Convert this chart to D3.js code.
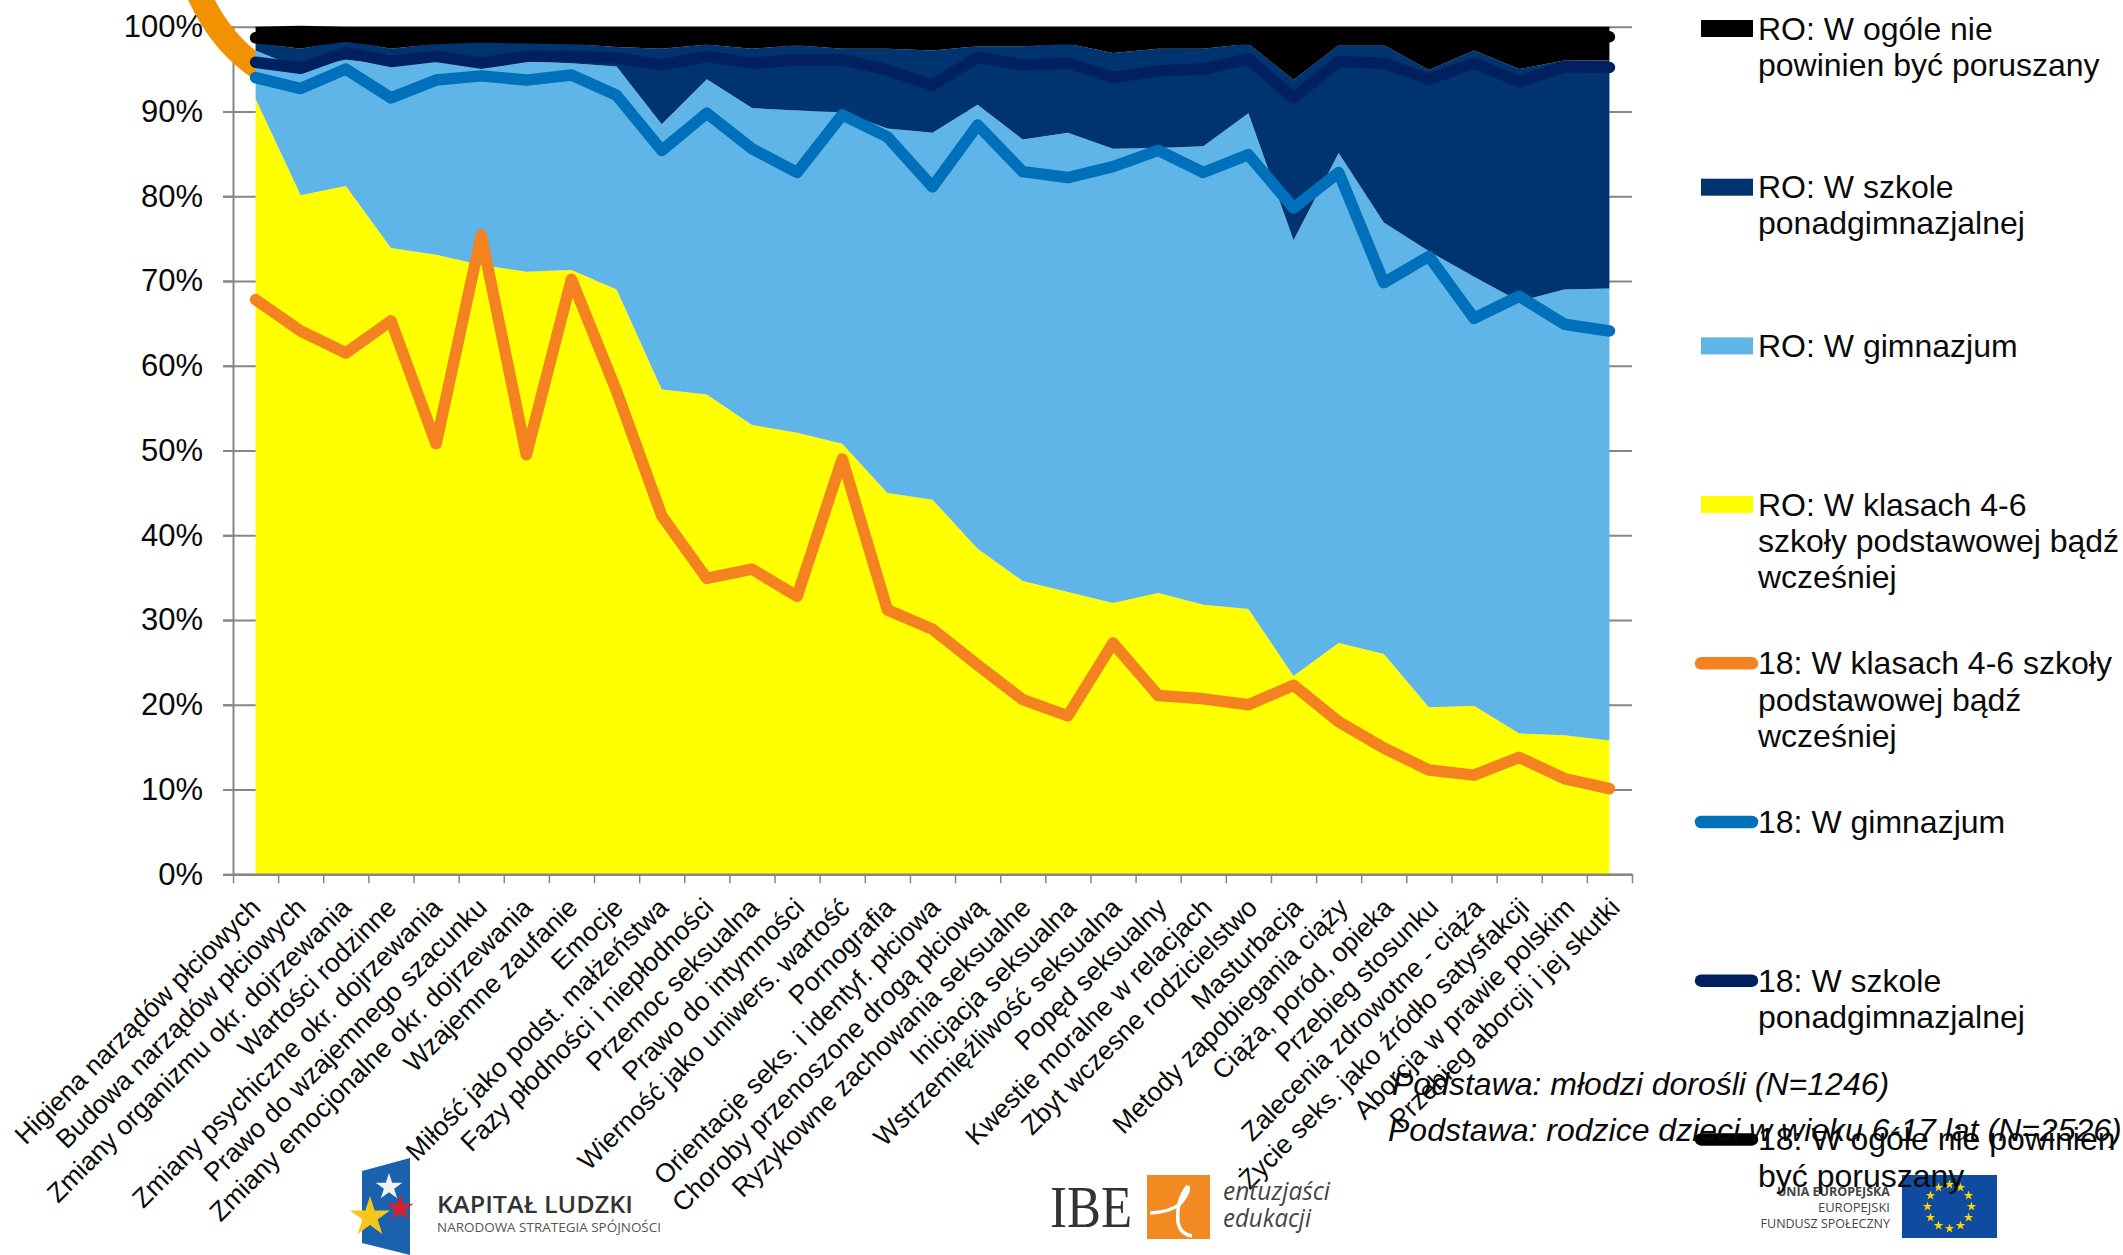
<!DOCTYPE html>
<html><head><meta charset="utf-8">
<script src="https://cdn.jsdelivr.net/npm/d3@7"></script>
<style>
html,body{margin:0;padding:0;background:#fff;overflow:hidden}
svg{display:block}
text{font-family:"Liberation Sans",Arial,sans-serif;fill:#0a0a0a}
</style></head><body>
<svg id="c" width="2123" height="1255"></svg>
<script>
const categories = ["Higiena narządów płciowych","Budowa narządów płciowych","Zmiany organizmu okr. dojrzewania","Wartości rodzinne","Zmiany psychiczne okr. dojrzewania","Prawo do wzajemnego szacunku","Zmiany emocjonalne okr. dojrzewania","Wzajemne zaufanie","Emocje","Miłość jako podst. małżeństwa","Fazy płodności i niepłodności","Przemoc seksualna","Prawo do intymności","Wierność jako uniwers. wartość","Pornografia","Orientacje seks. i identyf. płciowa","Choroby przenoszone drogą płciową","Ryzykowne zachowania seksualne","Inicjacja seksualna","Wstrzemięźliwość seksualna","Popęd seksualny","Kwestie moralne w relacjach","Zbyt wczesne rodzicielstwo","Masturbacja","Metody zapobiegania ciąży","Ciąża, poród, opieka","Przebieg stosunku","Zalecenia zdrowotne - ciąża","Życie seks. jako źródło satysfakcji","Aborcja w prawie polskim","Przebieg aborcji i jej skutki"];
// RO (rodzice) – stacked shares, %
const roKlasy = [91.5,80.1,81.2,73.9,73.1,71.9,71.1,71.3,69.0,57.2,56.6,53.0,52.1,50.8,45.0,44.2,38.4,34.6,33.3,32.0,33.2,31.8,31.3,23.4,27.3,26.0,19.7,19.9,16.6,16.4,15.8];
const roGimnazjum = [5.7,14.9,14.9,21.6,22.9,23.6,24.8,24.4,26.3,31.3,37.2,37.4,38.0,39.1,43.0,43.3,52.4,52.1,54.2,53.6,52.5,54.1,58.5,51.4,57.8,50.9,53.8,50.6,51.0,52.6,53.3];
const roPonad = [0.9,2.4,2.3,1.9,2.0,2.7,2.2,2.3,2.3,8.9,4.1,7.0,7.7,7.5,9.4,9.7,6.9,11.0,10.5,11.3,11.7,11.5,8.2,18.9,12.7,20.9,21.4,26.7,27.4,27.0,26.9];
const roWcale = [1.9,2.7,1.6,2.6,2.0,1.8,1.9,2.0,2.4,2.6,2.1,2.6,2.2,2.6,2.6,2.8,2.3,2.3,2.0,3.1,2.6,2.6,2.0,6.3,2.2,2.2,5.1,2.8,5.0,4.0,4.0];
// 18 (młodzi dorośli) – cumulative line positions, %
const m18Klasy = [67.8,64.1,61.5,65.3,50.8,75.4,49.5,70.2,57.0,42.3,34.9,36.0,32.8,49.0,31.2,28.9,24.7,20.6,18.7,27.3,21.1,20.7,20.0,22.3,18.0,14.9,12.3,11.7,13.8,11.3,10.1];
const m18Gimnazjum = [94.0,92.7,95.0,91.6,93.7,94.2,93.7,94.3,91.9,85.4,89.8,85.6,82.8,89.6,87.0,81.1,88.4,82.9,82.2,83.5,85.4,82.8,84.9,78.6,82.8,69.8,72.9,65.6,68.2,64.9,64.1];
const m18Ponad = [95.8,95.1,97.0,95.9,96.5,95.7,96.5,96.5,96.3,95.5,96.5,95.7,96.1,96.1,94.9,93.1,96.4,95.5,95.7,94.0,94.8,95.0,96.2,91.6,95.9,95.7,93.8,95.7,93.5,95.3,95.2];
const m18Wcale = [98.7,98.2,98.9,98.2,98.6,98.8,98.7,98.6,98.4,98.2,98.6,98.2,98.5,98.2,98.2,98.1,98.4,98.4,98.6,98.1,98.3,98.3,98.6,97.5,98.5,98.5,97.8,98.3,97.9,98.7,98.8];
const yTicks = [0,10,20,30,40,50,60,70,80,90,100];
const legendItems = [
 {kind:"area",color:"#000000",lines:["RO: W ogóle nie","powinien być poruszany"]},
 {kind:"area",color:"#003470",lines:["RO: W szkole","ponadgimnazjalnej"]},
 {kind:"area",color:"#60B5E8",lines:["RO: W gimnazjum"]},
 {kind:"area",color:"#FFFF00",lines:["RO: W klasach 4-6","szkoły podstawowej bądź","wcześniej"]},
 {kind:"line",color:"#F58220",lines:["18: W klasach 4-6 szkoły","podstawowej bądź","wcześniej"]},
 {kind:"line",color:"#0070BA",lines:["18: W gimnazjum"]},
 {kind:"line",color:"#00205F",lines:["18: W szkole","ponadgimnazjalnej"]},
 {kind:"line",color:"#000000",lines:["18: W ogóle nie powinien","być poruszany"]}
];

const svg = d3.select("#c");
const L=233, R=1632, T=26.7, B=874.3, GREY="#868686", FS=32;
const xBand = d3.scaleBand().domain(categories).range([L,R]);
const xMid = c => xBand(c)+xBand.bandwidth()/2;
const xTick = d3.scaleLinear().domain([0,categories.length]).range([L,R]);
const y = d3.scaleLinear().domain([0,100]).range([B,T]);

// gridlines
const grid = svg.append("g").attr("transform",`translate(${L-10},0)`)
  .call(d3.axisRight(y).tickValues(yTicks).tickSize(R-L+10).tickFormat(""));
grid.select(".domain").remove();
grid.selectAll("line").attr("stroke",GREY).attr("stroke-width",2);

// y axis
const yAxis = svg.append("g").attr("transform",`translate(${L},0)`)
  .call(d3.axisLeft(y).tickValues(yTicks).tickSize(10).tickSizeOuter(0).tickPadding(20).tickFormat(d=>d+"%"));
yAxis.select(".domain").attr("stroke",GREY).attr("stroke-width",2);
yAxis.selectAll("line").attr("stroke",GREY).attr("stroke-width",2);
yAxis.selectAll("text").attr("font-size",31).attr("fill","#0a0a0a");

// decorative orange arc, tucked behind the areas
svg.append("path").attr("d","M199,-5 Q222,45 262,70").attr("fill","none").attr("stroke","#F39200").attr("stroke-width",24);

// stacked areas
const rows = categories.map((c,i)=>({c,a:roKlasy[i],b:roGimnazjum[i],d:roPonad[i],e:roWcale[i]}));
const stack = d3.stack().keys(["a","b","d","e"])(rows);
const areaColors = ["#FFFF00","#60B5E8","#003470","#000000"];
const area = d3.area().x(d=>xMid(d.data.c)).y0(d=>y(d[0])).y1(d=>y(d[1]));
svg.append("g").selectAll("path").data(stack).join("path").attr("d",area).attr("fill",(d,i)=>areaColors[i]);

// x axis
const xTicks = svg.append("g").attr("transform",`translate(0,${B})`)
  .call(d3.axisBottom(xTick).tickValues(d3.range(categories.length+1)).tickSize(9).tickSizeOuter(0).tickFormat(""));
xTicks.select(".domain").attr("stroke",GREY).attr("stroke-width",2.5);
xTicks.selectAll("line").attr("stroke",GREY).attr("stroke-width",1.5);

const xLabels = svg.append("g").attr("transform",`translate(0,${B})`)
  .call(d3.axisBottom(xBand).tickSize(0));
xLabels.select(".domain").remove();
const labelShift = d3.scaleLinear().domain([0,categories.length-1]).range([6.5,12]);
xLabels.selectAll("text")
  .attr("font-size",26.5).attr("fill","#0a0a0a")
  .attr("text-anchor","end").attr("dy",0).attr("y",0)
  .attr("transform",(d,i)=>`translate(${labelShift(i)},35) rotate(-45)`);

// lines
const lineGen = d3.line().x((d,i)=>xMid(categories[i])).y(d=>y(d));
const seriesLines = [[m18Wcale,"#000000"],[m18Ponad,"#00205F"],[m18Gimnazjum,"#0070BA"],[m18Klasy,"#F58220"]];
svg.append("g").selectAll("path").data(seriesLines).join("path")
  .attr("d",d=>lineGen(d[0])).attr("fill","none").attr("stroke",d=>d[1])
  .attr("stroke-width",11.5).attr("stroke-linecap","round").attr("stroke-linejoin","round");

// logos
const starPath = d3.symbol().type(d3.symbolStar);
const kl = svg.append("g");
kl.append("path").attr("d","M362,1171 L410,1158 L410,1255 L362,1243 Z").attr("fill","#1B62AE");
[[389,1187,220,"#F2F2F2"],[400,1208,220,"#D7202B"],[370,1217,495,"#F7C61A"]].forEach(s=>{
  kl.append("path").attr("transform",`translate(${s[0]},${s[1]})`).attr("d",d3.symbol().type(d3.symbolStar).size(s[2])()).attr("fill",s[3]);
});
kl.append("text").attr("x",437).attr("y",1213).attr("font-size",24).attr("font-weight",600).attr("textLength",196).attr("lengthAdjust","spacingAndGlyphs").style("font-family","'Open Sans'").style("fill","#333").text("KAPITAŁ LUDZKI");
kl.append("text").attr("x",437).attr("y",1232).attr("font-size",12).attr("textLength",224).attr("lengthAdjust","spacingAndGlyphs").style("font-family","'Open Sans'").style("fill","#555").text("NARODOWA STRATEGIA SPÓJNOŚCI");

const ibe = svg.append("g");
ibe.append("text").attr("x",1050).attr("y",1227).attr("font-size",60).attr("textLength",82).attr("lengthAdjust","spacingAndGlyphs").style("font-family","'Liberation Serif'").style("fill","#333").text("IBE");
ibe.append("rect").attr("x",1147).attr("y",1175).attr("width",63).attr("height",64).attr("fill","#F18A21");
ibe.append("path").attr("d","M1150,1213 Q1170,1212 1180,1204 Q1190,1192 1188,1186 M1188,1186 Q1176,1200 1178,1222 Q1180,1234 1192,1236").attr("fill","none").attr("stroke","#fff").attr("stroke-width",3.5);
ibe.append("text").attr("x",1223).attr("y",1200).attr("font-size",25).attr("font-style","italic").attr("textLength",107).attr("lengthAdjust","spacingAndGlyphs").style("font-family","'Open Sans'").style("fill","#444").text("entuzjaści");
ibe.append("text").attr("x",1223).attr("y",1227).attr("font-size",25).attr("font-style","italic").attr("textLength",88).attr("lengthAdjust","spacingAndGlyphs").style("font-family","'Open Sans'").style("fill","#444").text("edukacji");

const eu = svg.append("g");
eu.append("rect").attr("x",1902).attr("y",1175).attr("width",95).attr("height",63).attr("fill","#0F4C9F");
const euStars = d3.range(12);
eu.selectAll("path").data(euStars).join("path")
  .attr("transform",d=>`translate(${1949.5+22*Math.sin(d*Math.PI/6)},${1206.5-22*Math.cos(d*Math.PI/6)})`)
  .attr("d",starPath.size(28)()).attr("fill","#FFD400");
[["UNIA EUROPEJSKA",1196,700,12.5],["EUROPEJSKI",1212,400,13],["FUNDUSZ SPOŁECZNY",1228,400,12.5]].forEach(t=>{
  eu.append("text").attr("x",1890).attr("y",t[1]).attr("text-anchor","end").attr("font-size",t[3]).attr("font-weight",t[2]).style("font-family","'Open Sans'").style("fill","#444").text(t[0]);
});

// legend, above the logos
const legendStep = 158.7;
const leg = svg.append("g").selectAll("g").data(legendItems).join("g")
  .attr("transform",(d,i)=>`translate(1701,${28.5+i*legendStep})`);
leg.filter(d=>d.kind==="area").append("rect").attr("x",0).attr("y",-8.5).attr("width",52).attr("height",17).attr("fill",d=>d.color);
leg.filter(d=>d.kind==="line").append("line").attr("x1",0).attr("x2",51).attr("y1",0).attr("y2",0)
  .attr("stroke",d=>d.color).attr("stroke-width",12.5).attr("stroke-linecap","round");
leg.each(function(d){
  d3.select(this).selectAll("text").data(d.lines).join("text")
    .attr("x",57).attr("y",(t,j)=>11+j*36.3).attr("font-size",FS).text(t=>t);
});

// base notes
const notes = [["Podstawa: młodzi dorośli (N=1246)",1392,1095],["Podstawa: rodzice dzieci w wieku 6-17 lat (N=2526)",1388,1141]];
svg.append("g").selectAll("text").data(notes).join("text")
  .attr("x",d=>d[1]).attr("y",d=>d[2]).attr("font-size",FS).attr("font-style","italic").text(d=>d[0]);
</script></body></html>
